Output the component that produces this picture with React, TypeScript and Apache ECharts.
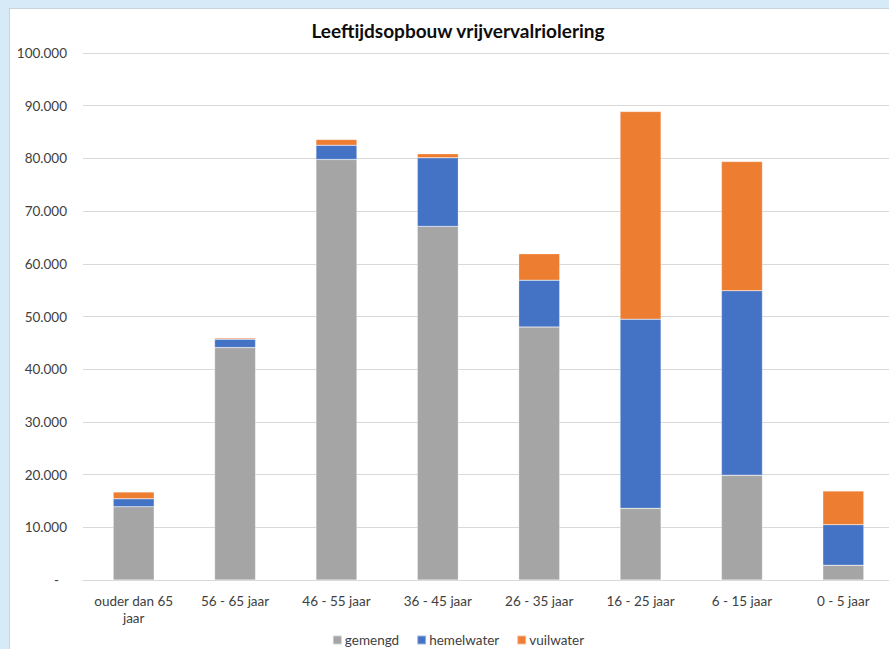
import React, { useEffect, useRef } from "react";
import * as echarts from "echarts";

const categories = [
  "ouder dan 65\njaar",
  "56 - 65 jaar",
  "46 - 55 jaar",
  "36 - 45 jaar",
  "26 - 35 jaar",
  "16 - 25 jaar",
  "6 - 15 jaar",
  "0 - 5 jaar",
];
const gemengd = [13900, 44100, 79800, 67100, 48000, 13600, 19900, 2800];
const hemelwater = [1500, 1600, 2700, 13000, 8900, 35900, 35000, 7700];
const vuilwater = [1300, 200, 1100, 800, 5000, 39400, 24500, 6400];
const seriesNames = ["gemengd", "hemelwater", "vuilwater"];
const colors = ["#A5A5A5", "#4472C4", "#ED7D31"];

const FONT = "Lato, 'Open Sans', sans-serif";

function fmt(v: number): string {
  if (v === 0) return "{dash|-}";
  return String(v).replace(/\B(?=(\d{3})+(?!\d))/g, ".");
}

export default function App() {
  const ref = useRef<HTMLDivElement>(null);
  useEffect(() => {
    if (!ref.current) return;
    const chart = echarts.init(ref.current, undefined, { renderer: "svg" });
    const data = [gemengd, hemelwater, vuilwater];
    chart.setOption({
      animation: false,
      backgroundColor: "#ffffff",
      title: {
        text: "Leeftijdsopbouw vrijvervalriolering",
        left: "center",
        top: 7,
        textStyle: { fontFamily: FONT, fontSize: 19, fontWeight: "bold", color: "#0d0d0d" },
      },
      legend: {
        bottom: 7,
        left: "center",
        itemWidth: 9,
        itemHeight: 9,
        itemGap: 17,
        icon: "rect",
        textStyle: { fontFamily: FONT, fontSize: 13.5, color: "#404040", padding: [0, 0, 0, -2] },
        data: seriesNames,
      },
      grid: { left: 73, right: 12, top: 44, bottom: 79, containLabel: false },
      xAxis: {
        type: "category",
        data: categories,
        axisLine: { show: true, lineStyle: { color: "#D9D9D9", width: 1 } },
        axisTick: { show: false },
        axisLabel: {
          fontFamily: FONT,
          fontSize: 13.5,
          color: "#404040",
          margin: 12,
          lineHeight: 17,
          interval: 0,
        },
      },
      yAxis: {
        type: "value",
        min: 0,
        max: 100000,
        interval: 10000,
        axisLine: { show: false },
        axisTick: { show: false },
        splitLine: { lineStyle: { color: "#D9D9D9", width: 1 } },
        axisLabel: {
          fontFamily: FONT,
          fontSize: 13.5,
          color: "#404040",
          margin: 16,
          formatter: (v: number) => fmt(v),
          rich: {
            dash: { fontFamily: FONT, fontSize: 13.5, color: "#404040", padding: [0, 8, 0, 0] },
          },
        },
      },
      series: seriesNames.map((name, i) => ({
        name,
        type: "bar",
        stack: "total",
        barWidth: 41,
        data: data[i],
        itemStyle: { color: colors[i], borderColor: "rgba(255,255,255,0.5)", borderWidth: 0.5 },
      })),
    });
    return () => chart.dispose();
  }, []);

  return (
    <div
      style={{
        position: "fixed",
        left: 0,
        top: 0,
        width: "100vw",
        height: "100vh",
        overflow: "hidden",
        background: "#D6EAF8",
      }}
    >
      <div
        style={{
          position: "absolute",
          left: 9,
          top: 8,
          width: 898,
          height: 652,
          border: "1px solid #C8D3DC",
          background: "#ffffff",
        }}
      >
        <div ref={ref} style={{ width: 896, height: 650 }} />
      </div>
    </div>
  );
}
